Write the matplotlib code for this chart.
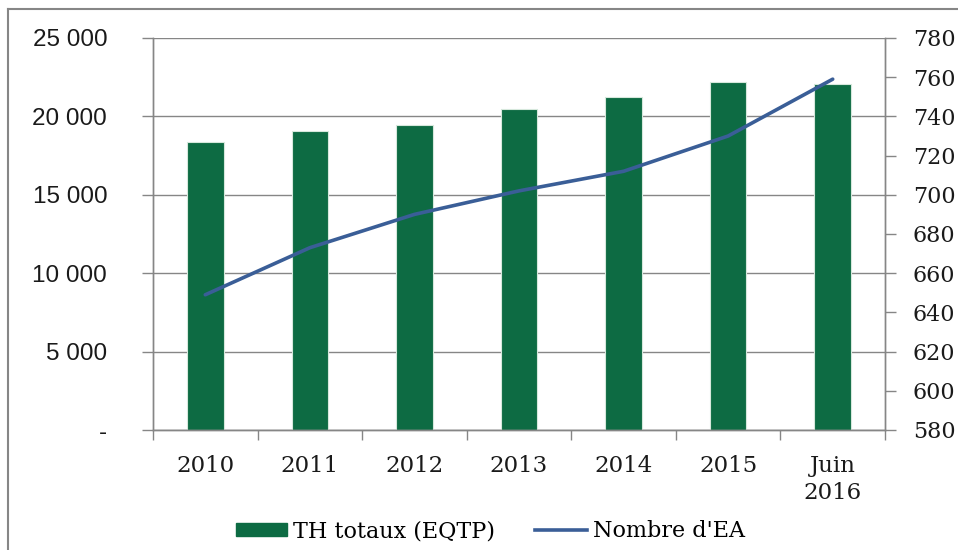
import matplotlib
matplotlib.use('Agg')
import matplotlib.pyplot as plt
from matplotlib.lines import Line2D
from matplotlib.ticker import FuncFormatter, FixedLocator

# data
categories = ['2010', '2011', '2012', '2013', '2014', '2015', 'Juin\n2016']
th_totaux = [18370, 19070, 19470, 20470, 21260, 22170, 22090]
nombre_ea = [649, 673, 690, 702, 712, 730, 759]

green = '#0d6b43'
blue = '#3a5e97'
grey = '#868686'

fig = plt.figure(figsize=(9.58, 5.5), dpi=100)
ax = fig.add_axes([153/958, 120/550, 732/958, 392/550])
ax2 = ax.twinx()

x = list(range(len(categories)))
ax.bar(x, th_totaux, width=0.35, color=green, edgecolor='#d6e8dc', linewidth=0.8, zorder=2)
ax2.plot(x, nombre_ea, color=blue, linewidth=2.6, solid_capstyle='round')

ax.set_xlim(-0.5, len(categories) - 0.5)
ax.set_ylim(0, 25000)
ax2.set_ylim(580, 780)
ax.set_yticks(range(0, 25001, 5000))
ax2.set_yticks(range(580, 781, 20))

def fmt_left(v, pos):
    if v == 0:
        return '-'
    return '{:,.0f}'.format(v).replace(',', ' ')

ax.yaxis.set_major_formatter(FuncFormatter(fmt_left))

ax.set_axisbelow(True)
ax.yaxis.grid(True, color=grey, linewidth=1.0)
ax.xaxis.grid(False)

for a in (ax, ax2):
    for s in a.spines.values():
        s.set_color(grey)
        s.set_linewidth(1.0)
ax.spines['top'].set_visible(False)
ax2.spines['top'].set_visible(False)

# category labels in the middle, ticks at the boundaries
ax.set_xticks(x)
ax.set_xticklabels(categories, fontfamily='DejaVu Serif', fontsize=16.5, linespacing=1.3)
ax.xaxis.set_minor_locator(FixedLocator([i - 0.5 for i in range(len(categories) + 1)]))
ax.tick_params(axis='x', which='major', length=0, pad=18, colors='#1a1a1a')
ax.tick_params(axis='x', which='minor', length=7, color=grey, width=1.0)

ax.tick_params(axis='y', length=8, color=grey, width=1.0, pad=25, labelsize=17.5, labelcolor='#1a1a1a')
for lbl in ax.get_yticklabels():
    lbl.set_fontfamily('Liberation Sans')
ax2.tick_params(axis='y', length=8, color=grey, width=1.0, pad=12, labelsize=16, labelcolor='#1a1a1a')
for lbl in ax2.get_yticklabels():
    lbl.set_fontfamily('DejaVu Serif')

# legend
handles = [plt.Rectangle((0, 0), 1, 1, color=green),
           Line2D([0], [0], color=blue, linewidth=2.6)]
fig.legend(handles, ['TH totaux (EQTP)', "Nombre d'EA"], loc='lower center',
           bbox_to_anchor=(0.512, -0.022), ncol=2, frameon=False,
           prop={'family': 'DejaVu Serif', 'size': 16}, handlelength=2.3,
           handleheight=0.5, handletextpad=0.3, columnspacing=1.8)

# outer frame of the chart
fig.add_artist(Line2D([8/958, 1.0], [1 - 9/550, 1 - 9/550], color=grey, linewidth=1.5, transform=fig.transFigure))
fig.add_artist(Line2D([8/958, 8/958], [0, 1 - 9/550], color=grey, linewidth=1.5, transform=fig.transFigure))

fig.savefig('out.png', dpi=100)
